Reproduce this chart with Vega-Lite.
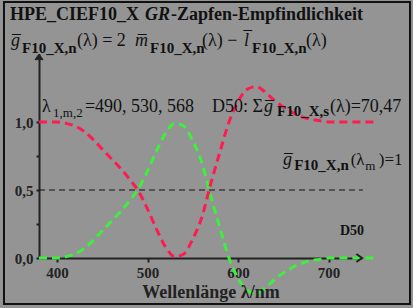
{
  "$schema": "https://vega.github.io/schema/vega-lite/v6.json",
  "width": 323,
  "height": 204,
  "autosize": "none",
  "padding": {"left": 39, "top": 54, "right": 51, "bottom": 50},
  "background": "#949494",
  "config": {"view": {"stroke": null}, "font": "Liberation Serif"},
  "datasets": {
    "curves": [
      {"wl": 380, "s": "g", "v": 0}, {"wl": 390, "s": "g", "v": 0}, {"wl": 400, "s": "g", "v": 0}, {"wl": 410, "s": "g", "v": 0.01},
      {"wl": 420, "s": "g", "v": 0.03}, {"wl": 430, "s": "g", "v": 0.07}, {"wl": 440, "s": "g", "v": 0.13}, {"wl": 450, "s": "g", "v": 0.2},
      {"wl": 460, "s": "g", "v": 0.27}, {"wl": 470, "s": "g", "v": 0.34}, {"wl": 480, "s": "g", "v": 0.42}, {"wl": 490, "s": "g", "v": 0.51},
      {"wl": 500, "s": "g", "v": 0.64}, {"wl": 510, "s": "g", "v": 0.79}, {"wl": 520, "s": "g", "v": 0.92}, {"wl": 530, "s": "g", "v": 0.99},
      {"wl": 540, "s": "g", "v": 0.97}, {"wl": 550, "s": "g", "v": 0.86}, {"wl": 560, "s": "g", "v": 0.7}, {"wl": 570, "s": "g", "v": 0.45},
      {"wl": 580, "s": "g", "v": 0.22}, {"wl": 590, "s": "g", "v": 0}, {"wl": 600, "s": "g", "v": -0.15}, {"wl": 610, "s": "g", "v": -0.24},
      {"wl": 620, "s": "g", "v": -0.26}, {"wl": 630, "s": "g", "v": -0.22}, {"wl": 640, "s": "g", "v": -0.16}, {"wl": 650, "s": "g", "v": -0.11},
      {"wl": 660, "s": "g", "v": -0.07}, {"wl": 670, "s": "g", "v": -0.04}, {"wl": 680, "s": "g", "v": -0.02}, {"wl": 690, "s": "g", "v": -0.01},
      {"wl": 700, "s": "g", "v": 0}, {"wl": 710, "s": "g", "v": 0}, {"wl": 720, "s": "g", "v": 0}, {"wl": 730, "s": "g", "v": 0},
      {"wl": 740, "s": "g", "v": 0}, {"wl": 750, "s": "g", "v": 0},
      {"wl": 380, "s": "r", "v": 1}, {"wl": 390, "s": "r", "v": 1}, {"wl": 400, "s": "r", "v": 1}, {"wl": 410, "s": "r", "v": 0.99},
      {"wl": 420, "s": "r", "v": 0.97}, {"wl": 430, "s": "r", "v": 0.93}, {"wl": 440, "s": "r", "v": 0.87}, {"wl": 450, "s": "r", "v": 0.8},
      {"wl": 460, "s": "r", "v": 0.73}, {"wl": 470, "s": "r", "v": 0.66}, {"wl": 480, "s": "r", "v": 0.58}, {"wl": 490, "s": "r", "v": 0.49},
      {"wl": 500, "s": "r", "v": 0.36}, {"wl": 510, "s": "r", "v": 0.21}, {"wl": 520, "s": "r", "v": 0.08}, {"wl": 530, "s": "r", "v": 0.01},
      {"wl": 540, "s": "r", "v": 0.03}, {"wl": 550, "s": "r", "v": 0.14}, {"wl": 560, "s": "r", "v": 0.3}, {"wl": 570, "s": "r", "v": 0.55},
      {"wl": 580, "s": "r", "v": 0.78}, {"wl": 590, "s": "r", "v": 1}, {"wl": 600, "s": "r", "v": 1.15}, {"wl": 610, "s": "r", "v": 1.24},
      {"wl": 620, "s": "r", "v": 1.26}, {"wl": 630, "s": "r", "v": 1.22}, {"wl": 640, "s": "r", "v": 1.16}, {"wl": 650, "s": "r", "v": 1.11},
      {"wl": 660, "s": "r", "v": 1.07}, {"wl": 670, "s": "r", "v": 1.04}, {"wl": 680, "s": "r", "v": 1.02}, {"wl": 690, "s": "r", "v": 1.01},
      {"wl": 700, "s": "r", "v": 1}, {"wl": 710, "s": "r", "v": 1}, {"wl": 720, "s": "r", "v": 1}, {"wl": 730, "s": "r", "v": 1},
      {"wl": 740, "s": "r", "v": 1}, {"wl": 750, "s": "r", "v": 1}
    ],
    "one": [{}]
  },
  "layer": [
    {
      "data": {"name": "one"},
      "mark": {"type": "rect", "fill": null, "stroke": "#111111", "strokeWidth": 2},
      "encoding": {
        "x": {"datum": 341.3, "type": "quantitative", "scale": {"domain": [380, 737], "nice": false, "zero": false},
          "axis": {"values": [400, 500, 600, 700], "title": null, "grid": false, "domainColor": "#222222", "domainWidth": 2,
            "tickColor": "#222222", "tickWidth": 2, "tickSize": 4, "labelFont": "Liberation Serif", "labelFontWeight": "bold",
            "labelFontSize": 15, "labelColor": "#222222", "labelPadding": 3, "labelFlush": false}},
        "x2": {"datum": 790.05},
        "y": {"datum": 1.882, "type": "quantitative", "scale": {"domain": [0, 1.5], "nice": false, "zero": false},
          "axis": {"values": [0, 0.25, 0.5, 0.75, 1], "title": null, "grid": false, "domainColor": "#222222", "domainWidth": 2,
            "tickColor": "#222222", "tickWidth": 2, "tickSize": 3, "labelFont": "Liberation Serif", "labelFontWeight": "bold",
            "labelFontSize": 15, "labelColor": "#222222", "labelPadding": 3, "labelFlush": false,
            "labelExpr": "datum.value == 0 ? '0,0' : datum.value == 0.5 ? '0,5' : datum.value == 1 ? '1,0' : ''"}},
        "y2": {"datum": -0.338}
      }
    },
    {
      "data": {"name": "one"},
      "mark": {"type": "rule", "stroke": "#111111", "strokeWidth": 1, "strokeDash": [6, 4]},
      "encoding": {"x": {"datum": 380, "type": "quantitative"}, "x2": {"datum": 738}, "y": {"datum": 0.5, "type": "quantitative"}}
    },
    {
      "data": {"name": "curves"},
      "transform": [{"filter": "datum.s == 'g'"}],
      "mark": {"type": "line", "stroke": "#3cf03c", "strokeWidth": 3, "strokeDash": [8, 5], "interpolate": "monotone"},
      "encoding": {"x": {"field": "wl", "type": "quantitative"}, "y": {"field": "v", "type": "quantitative"}}
    },
    {
      "data": {"name": "curves"},
      "transform": [{"filter": "datum.s == 'r'"}],
      "mark": {"type": "line", "stroke": "#ff1a4f", "strokeWidth": 3, "strokeDash": [8, 5], "interpolate": "monotone"},
      "encoding": {"x": {"field": "wl", "type": "quantitative"}, "y": {"field": "v", "type": "quantitative"}}
    },
    {
      "data": {"name": "one"},
      "mark": {"type": "point", "shape": "M-1.4,-1L0,0L-1.4,1", "filled": false, "stroke": "#222222", "strokeWidth": 2, "size": 64, "opacity": 1},
      "encoding": {"x": {"datum": 737, "type": "quantitative"}, "y": {"datum": 0, "type": "quantitative"}}
    },
    {
      "data": {"name": "one"},
      "mark": {"type": "point", "shape": "M-1,1.4L0,0L1,1.4Z", "filled": true, "fill": "#222222", "stroke": "#222222", "strokeWidth": 1, "size": 64, "opacity": 1},
      "encoding": {"x": {"datum": 380, "type": "quantitative"}, "y": {"datum": 1.5, "type": "quantitative"}}
    },
    {"data": {"name": "one"}, "mark": {"type": "text", "text": "HPE_CIEF10_X ", "align": "left", "baseline": "alphabetic", "font": "Liberation Serif", "fontSize": 18, "fontWeight": "bold", "color": "#111111"},
      "encoding": {"x": {"datum": 347.95, "type": "quantitative"}, "y": {"datum": 1.75, "type": "quantitative"}}},
    {"data": {"name": "one"}, "mark": {"type": "text", "text": "GR", "align": "left", "baseline": "alphabetic", "font": "Liberation Serif", "fontSize": 18, "fontWeight": "bold", "fontStyle": "italic", "color": "#111111"},
      "encoding": {"x": {"datum": 497.16, "type": "quantitative"}, "y": {"datum": 1.75, "type": "quantitative"}}},
    {"data": {"name": "one"}, "mark": {"type": "text", "text": "-Zapfen-Empfindlichkeit", "align": "left", "baseline": "alphabetic", "font": "Liberation Serif", "fontSize": 18, "fontWeight": "bold", "color": "#111111"},
      "encoding": {"x": {"datum": 525.9, "type": "quantitative"}, "y": {"datum": 1.75, "type": "quantitative"}}},

    {"data": {"name": "one"}, "mark": {"type": "text", "text": "g̅", "align": "left", "baseline": "alphabetic", "font": "Liberation Serif", "fontSize": 18, "fontStyle": "italic", "color": "#111111"},
      "encoding": {"x": {"datum": 349.05, "type": "quantitative"}, "y": {"datum": 1.5588, "type": "quantitative"}}},
    {"data": {"name": "one"}, "mark": {"type": "text", "text": "F10_X,n", "align": "left", "baseline": "alphabetic", "font": "Liberation Serif", "fontSize": 15, "fontWeight": "bold", "color": "#111111"},
      "encoding": {"x": {"datum": 361.2, "type": "quantitative"}, "y": {"datum": 1.5074, "type": "quantitative"}}},
    {"data": {"name": "one"}, "mark": {"type": "text", "text": "(λ) = 2", "align": "left", "baseline": "alphabetic", "font": "Liberation Serif", "fontSize": 18, "color": "#111111"},
      "encoding": {"x": {"datum": 422.0, "type": "quantitative"}, "y": {"datum": 1.5588, "type": "quantitative"}}},
    {"data": {"name": "one"}, "mark": {"type": "text", "text": "m̅", "align": "left", "baseline": "alphabetic", "font": "Liberation Serif", "fontSize": 18, "fontStyle": "italic", "color": "#111111"},
      "encoding": {"x": {"datum": 486.1, "type": "quantitative"}, "y": {"datum": 1.5588, "type": "quantitative"}}},
    {"data": {"name": "one"}, "mark": {"type": "text", "text": "F10_X,n", "align": "left", "baseline": "alphabetic", "font": "Liberation Serif", "fontSize": 15, "fontWeight": "bold", "color": "#111111"},
      "encoding": {"x": {"datum": 502.7, "type": "quantitative"}, "y": {"datum": 1.5074, "type": "quantitative"}}},
    {"data": {"name": "one"}, "mark": {"type": "text", "text": "(λ) −", "align": "left", "baseline": "alphabetic", "font": "Liberation Serif", "fontSize": 18, "color": "#111111"},
      "encoding": {"x": {"datum": 560.2, "type": "quantitative"}, "y": {"datum": 1.5588, "type": "quantitative"}}},
    {"data": {"name": "one"}, "mark": {"type": "text", "text": "l̅", "align": "left", "baseline": "alphabetic", "font": "Liberation Serif", "fontSize": 18, "fontStyle": "italic", "color": "#111111"},
      "encoding": {"x": {"datum": 606.6, "type": "quantitative"}, "y": {"datum": 1.5588, "type": "quantitative"}}},
    {"data": {"name": "one"}, "mark": {"type": "text", "text": "F10_X,n", "align": "left", "baseline": "alphabetic", "font": "Liberation Serif", "fontSize": 15, "fontWeight": "bold", "color": "#111111"},
      "encoding": {"x": {"datum": 615.4, "type": "quantitative"}, "y": {"datum": 1.5074, "type": "quantitative"}}},
    {"data": {"name": "one"}, "mark": {"type": "text", "text": "(λ)", "align": "left", "baseline": "alphabetic", "font": "Liberation Serif", "fontSize": 18, "color": "#111111"},
      "encoding": {"x": {"datum": 675.1, "type": "quantitative"}, "y": {"datum": 1.5588, "type": "quantitative"}}},

    {"data": {"name": "one"}, "mark": {"type": "text", "text": "λ", "align": "left", "baseline": "alphabetic", "font": "Liberation Serif", "fontSize": 18, "color": "#111111"},
      "encoding": {"x": {"datum": 383.3, "type": "quantitative"}, "y": {"datum": 1.0735, "type": "quantitative"}}},
    {"data": {"name": "one"}, "mark": {"type": "text", "text": "1,m,2", "align": "left", "baseline": "alphabetic", "font": "Liberation Serif", "fontSize": 13, "color": "#111111"},
      "encoding": {"x": {"datum": 395.5, "type": "quantitative"}, "y": {"datum": 1.0368, "type": "quantitative"}}},
    {"data": {"name": "one"}, "mark": {"type": "text", "text": "=490, 530, 568", "align": "left", "baseline": "alphabetic", "font": "Liberation Serif", "fontSize": 18, "color": "#111111"},
      "encoding": {"x": {"datum": 430.8, "type": "quantitative"}, "y": {"datum": 1.0735, "type": "quantitative"}}},
    {"data": {"name": "one"}, "mark": {"type": "text", "text": "D50: Σ", "align": "left", "baseline": "alphabetic", "font": "Liberation Serif", "fontSize": 18, "color": "#111111"},
      "encoding": {"x": {"datum": 571.2, "type": "quantitative"}, "y": {"datum": 1.0735, "type": "quantitative"}}},
    {"data": {"name": "one"}, "mark": {"type": "text", "text": "g̅", "align": "left", "baseline": "alphabetic", "font": "Liberation Serif", "fontSize": 18, "fontStyle": "italic", "color": "#111111"},
      "encoding": {"x": {"datum": 628.7, "type": "quantitative"}, "y": {"datum": 1.0735, "type": "quantitative"}}},
    {"data": {"name": "one"}, "mark": {"type": "text", "text": "F10_X,s", "align": "left", "baseline": "alphabetic", "font": "Liberation Serif", "fontSize": 15, "fontWeight": "bold", "color": "#111111"},
      "encoding": {"x": {"datum": 643.05, "type": "quantitative"}, "y": {"datum": 1.0441, "type": "quantitative"}}},
    {"data": {"name": "one"}, "mark": {"type": "text", "text": "(λ)=70,47", "align": "left", "baseline": "alphabetic", "font": "Liberation Serif", "fontSize": 18, "color": "#111111"},
      "encoding": {"x": {"datum": 701.6, "type": "quantitative"}, "y": {"datum": 1.0735, "type": "quantitative"}}},

    {"data": {"name": "one"}, "mark": {"type": "text", "text": "g̅", "align": "left", "baseline": "alphabetic", "font": "Liberation Serif", "fontSize": 18, "fontStyle": "italic", "color": "#111111"},
      "encoding": {"x": {"datum": 649.7, "type": "quantitative"}, "y": {"datum": 0.6838, "type": "quantitative"}}},
    {"data": {"name": "one"}, "mark": {"type": "text", "text": "F10_X,n", "align": "left", "baseline": "alphabetic", "font": "Liberation Serif", "fontSize": 15, "fontWeight": "bold", "color": "#111111"},
      "encoding": {"x": {"datum": 662.0, "type": "quantitative"}, "y": {"datum": 0.647, "type": "quantitative"}}},
    {"data": {"name": "one"}, "mark": {"type": "text", "text": "(λ", "align": "left", "baseline": "alphabetic", "font": "Liberation Serif", "fontSize": 17, "color": "#111111"},
      "encoding": {"x": {"datum": 724.5, "type": "quantitative"}, "y": {"datum": 0.6838, "type": "quantitative"}}},
    {"data": {"name": "one"}, "mark": {"type": "text", "text": "m", "align": "left", "baseline": "alphabetic", "font": "Liberation Serif", "fontSize": 13, "color": "#111111"},
      "encoding": {"x": {"datum": 740.5, "type": "quantitative"}, "y": {"datum": 0.647, "type": "quantitative"}}},
    {"data": {"name": "one"}, "mark": {"type": "text", "text": ")=1", "align": "left", "baseline": "alphabetic", "font": "Liberation Serif", "fontSize": 17, "color": "#111111"},
      "encoding": {"x": {"datum": 755.5, "type": "quantitative"}, "y": {"datum": 0.6838, "type": "quantitative"}}},

    {"data": {"name": "one"}, "mark": {"type": "text", "text": "D50", "align": "left", "baseline": "alphabetic", "font": "Liberation Serif", "fontSize": 14, "fontWeight": "bold", "color": "#111111"},
      "encoding": {"x": {"datum": 712.7, "type": "quantitative"}, "y": {"datum": 0.169, "type": "quantitative"}}},
    {"data": {"name": "one"}, "mark": {"type": "text", "text": "Wellenlänge λ/nm", "align": "center", "baseline": "alphabetic", "font": "Liberation Serif", "fontSize": 18, "fontWeight": "bold", "color": "#222222"},
      "encoding": {"x": {"datum": 570.1, "type": "quantitative"}, "y": {"datum": -0.294, "type": "quantitative"}}}
  ]
}
